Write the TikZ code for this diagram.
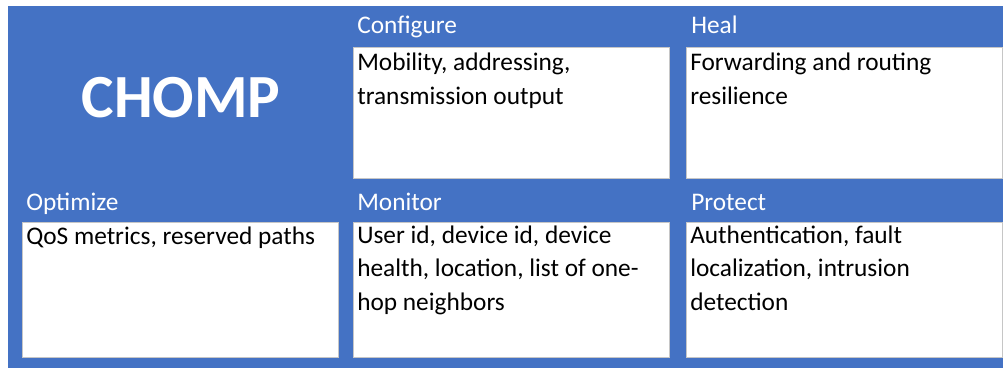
\documentclass[tikz,border=0pt]{standalone}
\usepackage{fontspec}
\setmainfont{Carlito}
\definecolor{chompblue}{HTML}{4472C4}
\begin{document}
\begin{tikzpicture}[x=0.75pt, y=-0.75pt,
        panel/.style = {draw=gray!45, fill=white, line width=0.5pt, anchor=north west,
                        inner sep=0pt, minimum width=237pt},
        heading/.style = {anchor=base west, inner sep=0pt, text=white,
                          font=\fontsize{19}{22}\selectfont},
        body/.style = {anchor=base west, inner sep=0pt, align=left,
                       font=\fontsize{19}{24.8}\selectfont}]
            \useasboundingbox (0,0) rectangle (1004,368);
            \fill[chompblue] (8,6) rectangle (1003,368);
            % title
            \node[anchor=base, inner sep=0pt, text=white,
                  font=\bfseries\fontsize{46}{54}\selectfont] (chomp) at (181,117) {CHOMP};
            % top row (body nodes sit on the baseline of their last line)
            \node[panel, minimum height=98.25pt] (configure) at (353,47) {};
            \node[panel, minimum height=98.25pt] (heal) at (686,47) {};
            \node[heading] (configure title) at (357,33) {Configure};
            \node[heading] (heal title) at (691,33) {Heal};
            \node[body] (configure text) at (357,104) {Mobility, addressing,\\transmission output};
            \node[body] (heal text) at (690,104) {Forwarding and routing\\resilience};
            % bottom row
            \node[panel, minimum height=101.25pt] (optimize) at (22,222) {};
            \node[panel, minimum height=101.25pt] (monitor) at (353,222) {};
            \node[panel, minimum height=101.25pt] (protect) at (686,222) {};
            \node[heading] (optimize title) at (26,210) {Optimize};
            \node[heading] (monitor title) at (357,210) {Monitor};
            \node[heading] (protect title) at (691,210) {Protect};
            \node[body] (optimize text) at (26,244) {QoS metrics, reserved paths};
            \node[body] (monitor text) at (357,310) {User id, device id, device\\health, location, list of one-\\hop neighbors};
            \node[body] (protect text) at (690,310) {Authentication, fault\\localization, intrusion\\detection};
        \end{tikzpicture}
\end{document}
